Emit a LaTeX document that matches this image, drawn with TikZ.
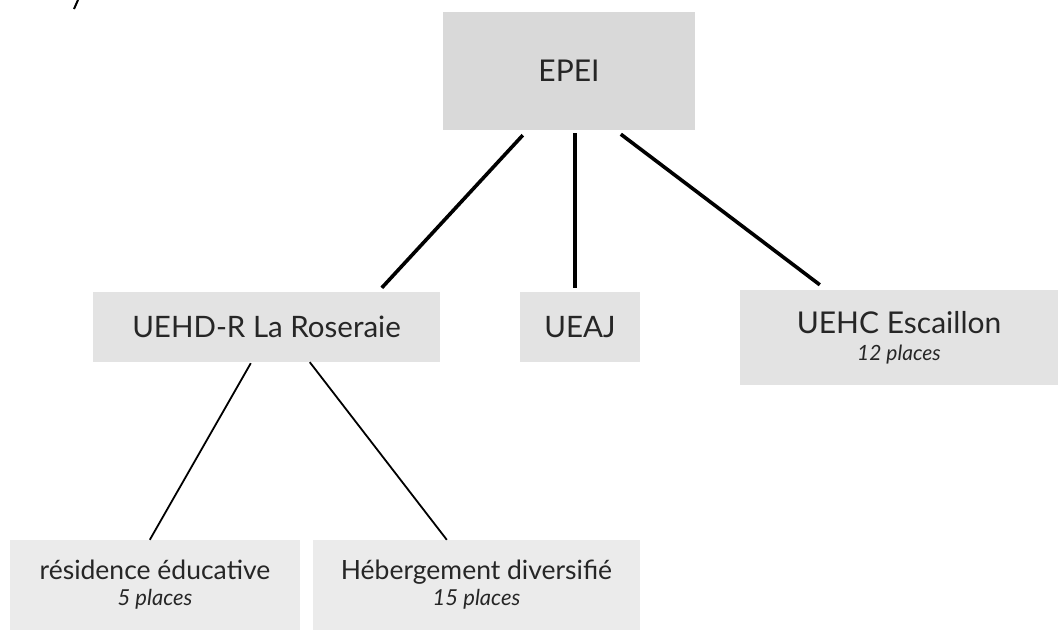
\documentclass[tikz,border=0pt]{standalone}
\usepackage{fontspec}
\setmainfont{Lato}
\definecolor{boxtop}{HTML}{D9D9D9}
\definecolor{boxmid}{HTML}{E3E3E3}
\definecolor{boxlow}{HTML}{EBEBEB}
\begin{document}
\begin{tikzpicture}[x=1pt,y=-1pt,
  orgbox/.style={fill=boxmid, draw=none, inner sep=0pt, align=center, text=black!85},
  heavy/.style={line width=3.6pt, black},
  light/.style={line width=1.8pt, black},
  mainfont/.style={font=\fontsize{29.5}{31}\selectfont}]
\useasboundingbox (0,0) rectangle (1058,634);
\fill[white] (0,0) rectangle (1058,634);
\draw[line width=2pt] (78,0) -- (74,9);
\node[orgbox, fill=boxtop, minimum width=252pt, minimum height=118pt, font=\fontsize{30}{32}\selectfont] (epei) at (569,71) {EPEI};
\node[orgbox, mainfont, minimum width=347pt, minimum height=70pt] (uehd) at (266.5,327) {UEHD-R La Roseraie};
\node[orgbox, mainfont, minimum width=120pt, minimum height=70pt] (ueaj) at (580,327) {UEAJ};
\node[orgbox, minimum width=318pt, minimum height=95pt, font=\fontsize{30}{27}\selectfont] (uehc) at (899,337.5)
  {UEHC Escaillon\\{\fontsize{21}{27}\selectfont\itshape 12 places}};
\node[orgbox, fill=boxlow, minimum width=290pt, minimum height=90pt, font=\fontsize{26.5}{26}\selectfont] (res) at (155,585)
  {résidence éducative\\{\fontsize{22}{26}\selectfont\itshape 5 places}};
\node[orgbox, fill=boxlow, minimum width=327pt, minimum height=90pt, font=\fontsize{26.5}{26}\selectfont] (heb) at (476.5,585)
  {Hébergement diversifié\\{\fontsize{22}{26}\selectfont\itshape 15 places}};
\draw[heavy] ([xshift=80pt,yshift=-5pt]epei.south west) -- ([xshift=289pt,yshift=4pt]uehd.north west);
\draw[heavy] ([xshift=132pt,yshift=-3pt]epei.south west) -- ([xshift=55pt,yshift=4pt]ueaj.north west);
\draw[heavy] ([xshift=178pt,yshift=-4pt]epei.south west) -- ([xshift=80pt,yshift=5pt]uehc.north west);
\draw[light] ([xshift=158pt,yshift=-1pt]uehd.south west) -- ([xshift=140pt]res.north west);
\draw[light] ([xshift=217pt]uehd.south west) -- ([xshift=134pt]heb.north west);
\end{tikzpicture}
\end{document}
